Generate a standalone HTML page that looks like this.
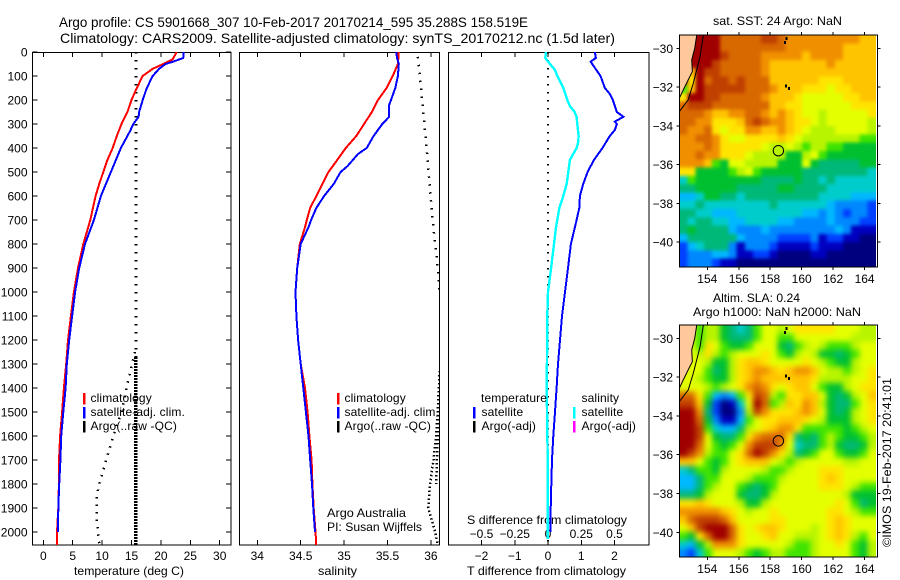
<!DOCTYPE html>
<html>
<head>
<meta charset="utf-8">
<title>Argo profile chart</title>
<style>
html,body{margin:0;padding:0;background:#fff;}
svg{display:block;}
text{font-family:"Liberation Sans",sans-serif;font-size:12px;fill:#000;}
</style>
</head>
<body>
<svg id="chart" xmlns="http://www.w3.org/2000/svg" width="900" height="580" viewBox="0 0 900 580">
<defs>
<clipPath id="clipT"><rect x="33" y="52" width="198" height="493"/></clipPath>
<clipPath id="clipS"><rect x="240" y="52" width="200" height="493"/></clipPath>
<clipPath id="clipD"><rect x="449" y="52" width="200" height="493"/></clipPath>
<clipPath id="clipM1"><rect x="679" y="35" width="197" height="232"/></clipPath>
<clipPath id="clipM2"><rect x="679" y="325" width="197" height="232"/></clipPath>
<filter id="blurSst" filterUnits="userSpaceOnUse" x="640" y="0" width="260" height="300" color-interpolation-filters="sRGB"><feGaussianBlur stdDeviation="1.8"/></filter>
<filter id="blurSla" filterUnits="userSpaceOnUse" x="640" y="290" width="260" height="290" color-interpolation-filters="sRGB"><feGaussianBlur stdDeviation="2.8"/></filter>
</defs>
<text x="59" y="27" style="font-size:14px" textLength="469" lengthAdjust="spacingAndGlyphs">Argo profile: CS 5901668_307 10-Feb-2017 20170214_595 35.288S 158.519E</text>
<text x="60" y="43" style="font-size:14px" textLength="555" lengthAdjust="spacingAndGlyphs">Climatology: CARS2009. Satellite-adjusted climatology: synTS_20170212.nc (1.5d later)</text>
<text x="74" y="575" textLength="110" lengthAdjust="spacingAndGlyphs">temperature (deg C)</text>
<text x="318" y="575" textLength="39" lengthAdjust="spacingAndGlyphs">salinity</text>
<text x="467" y="575" textLength="159" lengthAdjust="spacingAndGlyphs">T difference from climatology</text>
<text x="467" y="524" textLength="160" lengthAdjust="spacingAndGlyphs">S difference from climatology</text>
<text x="327" y="517" textLength="79" lengthAdjust="spacingAndGlyphs">Argo Australia</text>
<text x="327" y="531" textLength="95" lengthAdjust="spacingAndGlyphs">PI: Susan Wijffels</text>
<text x="713" y="25" textLength="129" lengthAdjust="spacingAndGlyphs">sat. SST: 24 Argo: NaN</text>
<text x="713" y="302" textLength="87" lengthAdjust="spacingAndGlyphs">Altim. SLA: 0.24</text>
<text x="693" y="316" textLength="168" lengthAdjust="spacingAndGlyphs">Argo h1000: NaN h2000: NaN</text>
<text transform="translate(891,547) rotate(-90)" textLength="169" lengthAdjust="spacingAndGlyphs">©IMOS 19-Feb-2017 20:41:01</text>
</svg>
<script>
/* ---------- profile data ---------- */
var tClimDepth = [0,30,50,70,100,150,200,250,300,350,400,450,500,550,600,700,800,900,1000,1100,1200,1300,1400,1500,1600,1700,1800,1900,2000,2054];
var tClimValue = [22.7,22.0,20.4,18.6,16.9,15.9,15.0,14.3,13.3,12.5,11.8,10.9,10.2,9.5,8.9,8.0,6.8,5.9,5.2,4.7,4.2,3.9,3.5,3.2,2.85,2.67,2.65,2.55,2.33,2.33];
var tSatDepth = [0,25,40,50,70,100,150,200,250,270,300,330,400,500,600,700,800,900,1000,1100,1200,1300,1400,1500,1600,1700,1800,1900,2000];
var tSatValue = [23.9,23.8,22.1,20.8,19.7,18.6,17.6,16.9,16.3,16.2,15.3,14.75,13.2,11.5,9.8,8.6,7.1,6.1,5.4,4.9,4.4,4.0,3.8,3.4,3.05,2.9,2.7,2.55,2.5];
var tArgoUpperDepth = [0,1270];
var tArgoUpperValue = [15.8,15.8];
var tArgoLowerDepth = [1270,2054];
var tArgoLowerValue = [15.7,15.7];
var tArgoBranchDepth = [1250,1367,1500,1600,1700,1800,1850,1950,2050];
var tArgoBranchValue = [15.6,14.45,13.3,11.9,10.7,9.5,9.1,9.1,9.5];

var sClimDepth = [0,50,75,100,150,200,250,300,350,400,450,500,550,600,650,700,730,800,900,1000,1100,1200,1300,1400,1500,1600,1700,1800,1900,2000,2054];
var sClimValue = [35.63,35.62,35.59,35.56,35.49,35.39,35.32,35.23,35.14,35.02,34.92,34.82,34.75,34.68,34.61,34.57,34.55,34.49,34.46,34.44,34.45,34.47,34.5,34.55,34.58,34.6,34.625,34.635,34.65,34.67,34.68];
var sSatDepth = [0,25,50,100,150,200,220,270,300,350,400,425,475,500,550,600,650,700,730,800,900,1000,1100,1200,1300,1400,1500,1600,1700,1800,1900,2000];
var sSatValue = [35.6,35.61,35.63,35.62,35.59,35.54,35.52,35.52,35.44,35.34,35.26,35.16,35.04,34.96,34.88,34.77,34.68,34.62,34.59,34.5,34.46,34.44,34.45,34.47,34.5,34.53,34.56,34.59,34.61,34.63,34.645,34.665];
var sArgoUpperDepth = [20,200,400,700,900,1000];
var sArgoUpperValue = [35.85,35.9,35.95,36.02,36.08,36.1];
var sArgoLowerDepth = [1330,1400,1500,1600,1700,1800,1900,2000,2054];
var sArgoLowerValue = [36.11,36.09,36.08,36.06,36.03,35.99,35.97,36.05,36.08];
var sArgoEdgeDepth = [1330,1600,1800];
var sArgoEdgeValue = [36.1,36.08,36.06];

var dTempDepth = [0,25,40,60,100,150,175,200,250,270,290,300,325,350,400,450,500,550,600,650,700,730,800,900,1000,1100,1200,1300,1400,1500,1600,1700,1800,1900,2000];
var dTempValue = [1.41,1.44,1.28,1.38,1.58,1.71,1.86,1.95,2.07,2.27,2.01,2.07,2.01,1.86,1.64,1.38,1.19,1.06,0.96,0.94,0.86,0.81,0.69,0.6,0.51,0.42,0.36,0.3,0.26,0.21,0.16,0.12,0.1,0.08,0.07];
var dSalDepth = [0,25,50,75,100,150,200,225,250,270,300,350,375,400,450,500,550,600,650,700,730,800,900,1000,1100,1200,1400,1700,2000,2030];
var dSalValue = [-0.015,-0.02,0.015,0.053,0.07,0.115,0.145,0.165,0.2,0.215,0.22,0.23,0.228,0.215,0.165,0.153,0.14,0.115,0.085,0.07,0.06,0.045,0.023,0,-0.005,-0.006,-0.01,-0.002,-0.002,-0.002];

/* ---------- tick labels ---------- */
var depthTicks = [0,100,200,300,400,500,600,700,800,900,1000,1100,1200,1300,1400,1500,1600,1700,1800,1900,2000];
var tempTicks = [0,5,10,15,20,25,30];
var salTicks = [34,34.5,35,35.5,36];
var tDiffTicks = [-2,-1,0,1,2];
var sDiffTicks = [-0.5,-0.25,0,0.25,0.5];
var lonTicks = [154,156,158,160,162,164];
var latTicks = [-30,-32,-34,-36,-38,-40];

/* ---------- map data (colour-level per grid cell, north to south) ---------- */
var levelColors = ['#00007f','#0000c0','#0040ff','#0088ff','#00b8ff','#00cccc','#00b878','#00c030','#40e400','#b8f400','#e4ff00','#ffe400','#ffc400','#f09000','#d86800','#c04000','#a00000'];
var sstGrid = [
[16,16,16,16,16,14,14,14,14,14,15,15,14,13,13,13,13,13,13,13,13,13,12,12],
[16,16,16,16,16,14,14,14,14,14,14,14,14,13,13,13,13,13,13,13,12,12,12,12],
[16,16,16,16,16,15,14,14,14,14,13,13,13,13,13,12,13,13,13,13,12,12,12,12],
[16,16,16,16,15,14,14,14,14,14,13,12,12,12,12,12,12,12,13,12,12,12,12,12],
[16,12,16,15,15,14,14,14,14,14,13,12,12,12,12,12,12,12,12,12,12,12,12,12],
[16,11,16,14,15,15,14,15,14,14,14,12,12,12,12,12,12,11,11,11,12,12,12,12],
[8,12,16,15,15,15,15,15,14,14,14,13,12,12,12,11,11,11,10,11,11,12,12,12],
[11,16,16,15,15,14,14,14,14,14,13,12,12,12,11,10,10,10,10,10,11,11,12,12],
[14,15,15,15,14,14,14,14,14,14,14,12,12,11,11,10,10,10,10,10,10,11,11,11],
[14,14,14,13,12,12,13,13,14,14,13,12,13,12,11,10,10,9,10,10,10,10,10,11],
[14,14,13,13,11,11,11,12,14,15,14,13,13,12,11,11,10,9,10,10,10,10,10,9],
[14,13,13,14,11,10,11,11,13,13,12,12,13,12,11,10,9,9,9,10,10,10,10,9],
[13,13,14,14,13,11,10,10,11,11,11,11,12,11,10,9,9,9,9,9,9,9,8,8],
[13,13,13,14,13,11,11,11,11,11,10,9,9,10,9,8,9,9,8,8,7,7,7,7],
[13,13,14,13,13,11,11,11,10,9,9,9,9,7,7,9,10,8,7,7,7,7,7,7],
[13,13,13,12,8,7,10,10,9,9,9,9,7,7,7,10,7,6,6,6,6,6,7,7],
[11,11,7,7,7,7,8,9,10,8,7,7,7,7,7,6,6,6,6,6,6,6,6,5],
[5,8,7,7,7,7,7,7,7,7,6,6,6,6,7,6,6,5,6,5,5,5,5,5],
[6,6,7,7,7,7,7,6,6,6,6,6,7,7,6,6,6,6,5,5,5,5,5,5],
[4,4,5,7,7,6,6,5,6,6,6,6,6,6,6,6,6,5,5,5,5,4,4,4],
[5,5,6,5,5,5,5,5,5,5,5,6,5,5,5,5,5,5,4,3,3,3,3,2],
[6,6,5,5,4,4,4,5,5,5,5,5,5,5,5,4,4,3,4,3,2,3,3,2],
[6,5,6,6,5,5,4,4,5,5,5,5,4,4,3,3,3,3,4,3,3,3,2,2],
[6,7,6,6,6,6,4,3,3,3,4,3,3,3,3,3,3,3,3,4,3,1,1,1],
[4,6,6,6,6,6,6,4,3,3,3,3,2,2,2,2,3,1,2,2,1,1,0,0],
[2,4,5,6,6,6,3,1,3,3,3,2,1,1,1,1,2,1,1,1,0,0,0,0],
[2,3,3,3,4,4,3,1,1,2,2,1,0,0,0,0,1,1,0,0,0,0,0,0],
[2,3,3,3,2,1,1,0,0,0,0,0,0,0,0,0,0,0,0,0,0,0,0,0]
];
var slaGrid = [
[10,10,8,9,9,7,6,5,6,8,10,10,9,10,11,11,11,11,11,10,10,10,9,9],
[10,10,8,9,9,7,6,6,6,8,10,10,8,8,10,10,10,10,10,10,10,9,9,9],
[10,10,8,11,10,8,7,7,8,10,10,10,7,6,8,9,10,9,8,8,8,9,10,10],
[10,10,9,11,9,8,9,10,10,10,11,10,8,7,9,10,9,7,7,6,7,8,10,10],
[10,10,10,9,7,7,9,11,12,12,11,10,10,10,10,11,10,9,8,7,7,9,10,10],
[10,10,10,8,6,7,9,11,12,13,13,12,11,12,13,13,12,10,9,9,8,9,10,11],
[10,10,9,8,7,7,9,11,12,13,12,12,12,12,12,12,11,9,9,9,9,10,10,11],
[10,10,10,9,8,9,10,11,13,14,13,11,10,11,12,12,10,8,7,7,9,10,11,11],
[14,14,11,8,4,3,4,8,11,15,14,9,8,11,11,12,12,10,7,6,7,9,10,12],
[15,15,12,7,2,0,1,5,10,16,14,8,9,12,11,13,12,9,7,6,6,8,10,11],
[16,16,13,6,2,0,0,3,9,15,13,11,11,11,12,13,12,10,7,6,7,9,10,11],
[16,16,14,7,3,1,1,4,8,10,11,11,12,12,12,11,10,9,7,7,7,9,10,11],
[16,16,15,8,5,4,4,6,9,10,11,12,13,13,11,8,8,8,8,8,7,8,9,10],
[16,16,15,10,7,6,6,8,11,13,14,14,14,11,6,7,6,8,9,8,7,7,8,9],
[16,16,14,10,8,7,8,10,13,15,15,15,13,10,5,6,6,8,9,7,6,6,7,9],
[16,15,13,9,8,8,10,11,14,16,15,13,11,9,6,7,8,10,10,8,7,7,8,10],
[12,12,10,8,7,8,10,11,12,12,12,10,9,8,9,10,10,10,10,10,9,9,10,10],
[5,6,8,8,7,9,10,10,10,10,9,8,8,9,10,10,10,11,11,11,10,10,10,10],
[4,4,6,8,8,10,10,10,9,8,8,8,9,10,10,10,10,11,12,11,10,10,10,10],
[4,4,6,8,9,10,10,8,7,6,7,8,10,10,10,10,10,11,11,11,10,9,8,8],
[6,6,7,9,10,10,10,7,6,6,7,9,10,10,10,10,10,10,10,10,9,7,7,7],
[11,11,12,11,10,10,10,9,7,7,9,10,10,10,10,10,10,10,10,11,10,8,6,7],
[13,13,13,13,13,12,11,10,9,10,10,11,10,10,10,10,10,10,11,11,10,9,8,8],
[12,14,15,15,15,14,12,10,10,10,10,11,11,10,10,10,10,10,11,12,11,10,10,10],
[10,12,15,16,16,16,14,11,10,11,12,12,11,10,10,10,9,10,11,12,11,10,10,10],
[8,7,11,14,16,16,14,11,10,10,11,12,10,10,9,9,9,10,11,12,11,9,8,10],
[5,4,7,9,13,13,13,11,10,10,10,10,10,9,8,8,9,10,10,11,10,8,7,9],
[3,2,5,8,10,10,10,9,8,7,8,9,9,8,8,8,9,10,10,10,10,8,7,9]
];
var landLon = [153.33,153.2,153.01,153.05,152.8,152.47,152.22,152.22];
var landLat = [-29.31,-30.0,-30.6,-31.2,-31.6,-32.15,-32.58,-29.31];
var shelfLon = [153.75,153.54,153.11,152.79,152.22];
var shelfLat = [-29.31,-30.43,-31.8,-32.66,-33.27];
var islandLon = [159.02,158.95,159.0,159.2];
var islandLat = [-29.5,-29.7,-31.95,-32.08];
var profileLon = 158.519;
var profileLat = -35.288;

/* ---------- axis functions ---------- */
function yDepth(d){return 52+0.24*d;}
function xTemp(v){return 43.3+5.88*v;}
function xSal(v){return 257.3+86.8*(v-34);}
function xTDiff(v){return 548+33.25*v;}
function xSDiff(v){return 548+133*v;}
function xLon(v){return 707.3+15.73*(v-154);}
function yLat1(v){return 48.3+19.37*(-30-v);}
function yLat2(v){return 338.3+19.4*(-30-v);}

var svg = document.getElementById('chart');
var NS = 'http://www.w3.org/2000/svg';
function make(tag, attrs){
  var el = document.createElementNS(NS, tag);
  for (var k in attrs) el.setAttribute(k, attrs[k]);
  svg.appendChild(el);
  return el;
}
function pts(depth, value, xf){
  return depth.map(function(d,i){return xf(value[i]).toFixed(1)+','+yDepth(d).toFixed(1);}).join(' ');
}
function profile(depth, value, xf, color, width, clip, dash){
  var a = {points:pts(depth,value,xf),fill:'none',stroke:color,'stroke-width':width,'shape-rendering':'crispEdges','clip-path':'url(#'+clip+')'};
  if (dash) a['stroke-dasharray'] = dash;
  return make('polyline', a);
}
function fmtMinus(v){return String(v).replace('-', '\u2212');}
function frame(x0, x1){
  var r = make('rect',{x:x0,y:52.5,width:x1-x0,height:492.5,fill:'none',stroke:'#000','stroke-width':1.2,'shape-rendering':'crispEdges'});
  
  
}
function xTicks(list, xf, prefix, labelY){
  list.forEach(function(v){
    var x = xf(v);
    var b = make('line',{x1:x,x2:x,y1:545,y2:540,stroke:'#000','shape-rendering':'crispEdges'});
    
    
    var t = make('line',{x1:x,x2:x,y1:52,y2:57,stroke:'#000','shape-rendering':'crispEdges'});
    
    
    var l = make('text',{x:x,y:labelY,'text-anchor':'middle'});
    l.textContent = fmtMinus(v);
    
    
  });
}
function legendBar(x, y, color, name){
  var r = make('rect',{x:x,y:y,width:2.5,height:11.5,fill:color,'shape-rendering':'crispEdges'});
  
  
}
function legendText(x, y, str, name){
  var t = make('text',{x:x,y:y,style:'letter-spacing:0.12px'});
  t.textContent = str;
  
  
}
function addSeries(el, name){
  
  
}

/* ---------- temperature panel ---------- */
frame(32.5,231);
depthTicks.forEach(function(d){
  var y = yDepth(d);
  var a = make('line',{x1:32.5,x2:37.5,y1:y,y2:y,stroke:'#000','shape-rendering':'crispEdges'});
  
  
  var b = make('line',{x1:231,x2:226,y1:y,y2:y,stroke:'#000','shape-rendering':'crispEdges'});
  
  
  var l = make('text',{x:27.5,y:y+4.5,'text-anchor':'end'});
  l.textContent = d;
  
  
});
xTicks(tempTicks, xTemp, 'temperature', 560);
addSeries(profile(tArgoUpperDepth,tArgoUpperValue,xTemp,'#000',3,'clipT','1.5 6.5'), 'temperature-argo-upper');
addSeries(profile(tArgoLowerDepth,tArgoLowerValue,xTemp,'#000',3.5,'clipT','2 1'), 'temperature-argo-lower');
addSeries(profile(tArgoBranchDepth,tArgoBranchValue,xTemp,'#000',2.5,'clipT','1.5 6'), 'temperature-argo-branch');
addSeries(profile(tClimDepth,tClimValue,xTemp,'#ff0000',2,'clipT'), 'temperature-climatology-line');
addSeries(profile(tSatDepth,tSatValue,xTemp,'#0000ff',2,'clipT'), 'temperature-satellite-line');
legendBar(83,393,'#ff0000','temperature-legend-climatology-swatch');
legendBar(83,407,'#0000ff','temperature-legend-satellite-swatch');
legendBar(83,421,'#000000','temperature-legend-argo-swatch');
legendText(90.5,402,'climatology','temperature-legend-climatology');
legendText(90.5,416,'satellite-adj. clim.','temperature-legend-satellite');
legendText(90.5,430,'Argo(..raw -QC)','temperature-legend-argo');

/* ---------- salinity panel ---------- */
frame(239.5,439.5);
xTicks(salTicks, xSal, 'salinity', 560);
addSeries(profile(sArgoUpperDepth,sArgoUpperValue,xSal,'#000',2.5,'clipS','1.5 6.5'), 'salinity-argo-upper');
addSeries(profile(sArgoLowerDepth,sArgoLowerValue,xSal,'#000',2.5,'clipS','1.5 2.5'), 'salinity-argo-lower');
addSeries(profile(sArgoEdgeDepth,sArgoEdgeValue,xSal,'#000',2.5,'clipS','1.5 2.5'), 'salinity-argo-edge');
addSeries(profile(sClimDepth,sClimValue,xSal,'#ff0000',2,'clipS'), 'salinity-climatology-line');
addSeries(profile(sSatDepth,sSatValue,xSal,'#0000ff',2,'clipS'), 'salinity-satellite-line');
legendBar(337,393,'#ff0000','salinity-legend-climatology-swatch');
legendBar(337,407,'#0000ff','salinity-legend-satellite-swatch');
legendBar(337,421,'#000000','salinity-legend-argo-swatch');
legendText(344.5,402,'climatology','salinity-legend-climatology');
legendText(344.5,416,'satellite-adj. clim.','salinity-legend-satellite');
legendText(344.5,430,'Argo(..raw -QC)','salinity-legend-argo');

/* ---------- difference panel ---------- */
frame(448.5,649);
xTicks(tDiffTicks, xTDiff, 't-difference', 560);
sDiffTicks.forEach(function(v){
  var l = make('text',{x:xSDiff(v),y:538,'text-anchor':'middle'});
  l.textContent = fmtMinus(v);
  
  
});
var zl = make('line',{x1:xTDiff(0),x2:xTDiff(0),y1:yDepth(0),y2:yDepth(2054),stroke:'#000','stroke-width':2,'stroke-dasharray':'1.5 6.5','shape-rendering':'crispEdges'});


addSeries(profile(dTempDepth,dTempValue,xTDiff,'#0000ff',2,'clipD'), 'temperature-difference-line');
addSeries(profile(dSalDepth,dSalValue,xSDiff,'#00ffff',2.4,'clipD'), 'salinity-difference-line');
legendText(481,402,'temperature','difference-legend-temperature-heading');
legendText(481.5,416,'satellite','difference-legend-temperature-satellite');
legendText(481.5,430,'Argo(-adj)','difference-legend-temperature-argo');
legendText(581.5,402,'salinity','difference-legend-salinity-heading');
legendText(581.5,416,'satellite','difference-legend-salinity-satellite');
legendText(581.5,430,'Argo(-adj)','difference-legend-salinity-argo');
legendBar(473,407,'#0000ff','difference-legend-temperature-satellite-swatch');
legendBar(473,421,'#000000','difference-legend-temperature-argo-swatch');
legendBar(573,407,'#00ffff','difference-legend-salinity-satellite-swatch');
legendBar(573,421,'#ff00ff','difference-legend-salinity-argo-swatch');

/* ---------- maps ---------- */
function drawMap(grid, yLat, clip, blur, prefix, top, bottom){
  var lonW = 152.22, lonE = 164.71;
  var latN = -30 - (top - yLat(-30)) / (yLat(-31) - yLat(-30));
  var latS = -30 - (bottom - yLat(-30)) / (yLat(-31) - yLat(-30));
  var nr = grid.length, nc = grid[0].length;
  var dLon = (lonE-lonW)/nc, dLat = (latN-latS)/nr;
  var outer = make('g',{'clip-path':'url(#'+clip+')'});
  
  
  var inner = make('g',{filter:'url(#'+blur+')'});
  outer.appendChild(inner);
  grid.forEach(function(row, j){
    row.forEach(function(v, i){
      var x0 = xLon(lonW+i*dLon), x1 = xLon(lonW+(i+1)*dLon);
      var y0 = yLat(latN-j*dLat), y1 = yLat(latN-(j+1)*dLat);
      /* outer cells extend past the clip so the smoothing does not fade at the frame */
      if (i === 0) x0 -= 15;
      if (i === nc-1) x1 += 15;
      if (j === 0) y0 -= 15;
      if (j === nr-1) y1 += 15;
      var c = make('rect',{x:x0,y:y0,width:x1-x0+0.5,height:y1-y0+0.5,fill:levelColors[v],'shape-rendering':'crispEdges'});
      
      
      inner.appendChild(c);
    });
  });
  var land = make('polygon',{points:landLon.map(function(v,i){return xLon(v)+','+yLat(landLat[i]);}).join(' '),fill:'#ffc89a',stroke:'#000','stroke-width':1,'clip-path':'url(#'+clip+')'});
  
  
  var shelf = make('polyline',{points:shelfLon.map(function(v,i){return xLon(v)+','+yLat(shelfLat[i]);}).join(' '),fill:'none',stroke:'#000','stroke-width':1,'clip-path':'url(#'+clip+')'});
  
  
  islandLon.forEach(function(v,i){
    var m = make('rect',{x:xLon(v)-1,y:yLat(islandLat[i])-1.5,width:2,height:3,fill:'#000','shape-rendering':'crispEdges'});
    
    
  });
  var f = make('rect',{x:679.5,y:top,width:198,height:bottom-top,fill:'none',stroke:'#000','stroke-width':1.2,'shape-rendering':'crispEdges'});
  
  
  lonTicks.forEach(function(v){
    var x = xLon(v);
    var a = make('line',{x1:x,x2:x,y1:top,y2:top-3,stroke:'#000','shape-rendering':'crispEdges'});
    
    
    var b = make('line',{x1:x,x2:x,y1:bottom,y2:bottom+3,stroke:'#000','shape-rendering':'crispEdges'});
    
    
    var l = make('text',{x:x,y:bottom+16,'text-anchor':'middle'});
    l.textContent = v;
    
    
  });
  latTicks.forEach(function(v){
    var y = yLat(v);
    var a = make('line',{x1:679.5,x2:676.5,y1:y,y2:y,stroke:'#000','shape-rendering':'crispEdges'});
    
    
    var b = make('line',{x1:877.5,x2:880.5,y1:y,y2:y,stroke:'#000','shape-rendering':'crispEdges'});
    
    
    var l = make('text',{x:673,y:y+4.5,'text-anchor':'end'});
    l.textContent = fmtMinus(v);
    
    
  });
  var pc = make('circle',{cx:xLon(profileLon),cy:yLat(profileLat),r:5.2,fill:'none',stroke:'#000','stroke-width':1});
  
  
}
drawMap(sstGrid, yLat1, 'clipM1', 'blurSst', 'sst-map', 35, 267);
drawMap(slaGrid, yLat2, 'clipM2', 'blurSla', 'sla-map', 325, 557);
</script>
</body>
</html>
